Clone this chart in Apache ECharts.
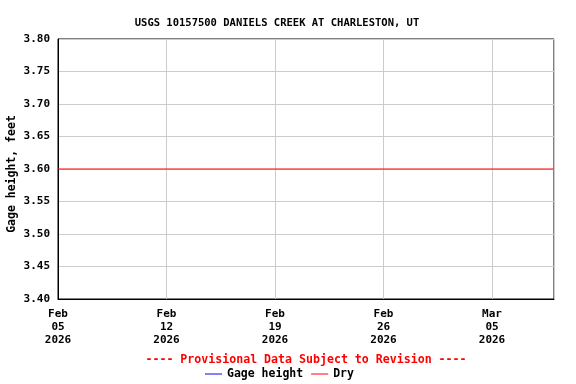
<!DOCTYPE html>
<html>
<head>
<meta charset="utf-8">
<script src="https://cdn.jsdelivr.net/npm/echarts@6/dist/echarts.min.js"></script>
<style>
  html, body { margin: 0; padding: 0; background: #fff; }
  #chart { width: 576px; height: 384px; }
</style>
</head>
<body>
<div id="chart"></div>
<script>
// x axis runs in days counted from the first date
const startDate = '2026-02-05'
const endDate = '2026-03-09'
const yTicks = [3.40, 3.45, 3.50, 3.55, 3.60, 3.65, 3.70, 3.75, 3.80]
const gageDates = []
const gageValues = []
const dryDates = ['2026-02-05', '2026-03-09']
const dryValues = [3.60, 3.60]
const monthNames = ['Jan', 'Feb', 'Mar', 'Apr', 'May', 'Jun', 'Jul', 'Aug', 'Sep', 'Oct', 'Nov', 'Dec']

const DAY = 86400000
const t0 = Date.parse(startDate + 'T00:00:00Z')
const dayIndex = d => Math.round((Date.parse(d + 'T00:00:00Z') - t0) / DAY)

const font = 'DejaVu Sans Mono'

const chart = echarts.init(document.getElementById('chart'))
const option = {
  animation: false,
  title: [
    {
      text: 'USGS 10157500 DANIELS CREEK AT CHARLESTON, UT',
      left: 272, top: 13, textAlign: 'center',
      textStyle: {fontFamily: font, fontSize: 10.5, fontWeight: 'bold', color: '#000'}
    },
    {
      text: '---- Provisional Data Subject to Revision ----',
      left: 301, top: 349, textAlign: 'center',
      textStyle: {fontFamily: font, fontSize: 11.6, fontWeight: 'bold', color: '#ff0000'}
    }
  ],
  graphic: [
    {
      type: 'text',
      x: 12, y: 174,
      rotation: Math.PI / 2,
      style: {
        text: 'Gage height, feet',
        fontFamily: font, fontSize: 11.5, fontWeight: 'bold', fill: '#000',
        align: 'center', verticalAlign: 'middle'
      }
    }
  ],
  legend: {
    data: ['Gage height', 'Dry'],
    left: 200,
    top: 363,
    icon: 'rect',
    itemWidth: 17,
    itemHeight: 1,
    itemGap: 8,
    textStyle: {fontFamily: font, fontSize: 11.5, fontWeight: 'bold', color: '#000'}
  },
  grid: {
    left: 58, right: 22, top: 39, bottom: 85,
    outerBoundsMode: 'none',
    containLabel: false,
    show: true, borderColor: '#000', borderWidth: 1
  },
  xAxis: {
    type: 'value',
    min: 0,
    max: dayIndex(endDate),
    interval: 7,
    axisLine: {show: true, lineStyle: {color: '#000'}},
    axisTick: {show: false},
    splitLine: {show: true, lineStyle: {color: '#cccccc'}},
    axisLabel: {
      margin: 8,
      fontFamily: font, fontSize: 11, fontWeight: 'bold', color: '#000', lineHeight: 13.3,
      showMaxLabel: false,
      formatter: v => {
        const d = new Date(t0 + v * DAY)
        const dd = String(d.getUTCDate()).padStart(2, '0')
        return monthNames[d.getUTCMonth()] + '\n' + dd + '\n' + d.getUTCFullYear()
      }
    }
  },
  yAxis: {
    type: 'value',
    min: yTicks[0],
    max: yTicks[yTicks.length - 1],
    interval: 0.05,
    axisLine: {show: true, lineStyle: {color: '#000'}},
    axisTick: {show: false},
    splitLine: {show: true, lineStyle: {color: '#cccccc'}},
    axisLabel: {
      margin: 8,
      fontFamily: font, fontSize: 11, fontWeight: 'bold', color: '#000',
      formatter: v => v.toFixed(2)
    }
  },
  series: [
    {
      name: 'Gage height',
      type: 'line',
      showSymbol: false,
      color: '#0000ff',
      lineStyle: {width: 1},
      data: gageDates.map((d, i) => [dayIndex(d), gageValues[i]])
    },
    {
      name: 'Dry',
      type: 'line',
      showSymbol: false,
      color: '#ff0000',
      lineStyle: {width: 1},
      data: dryDates.map((d, i) => [dayIndex(d), dryValues[i]])
    }
  ]
}
chart.setOption(option, true)
</script>
</body>
</html>
